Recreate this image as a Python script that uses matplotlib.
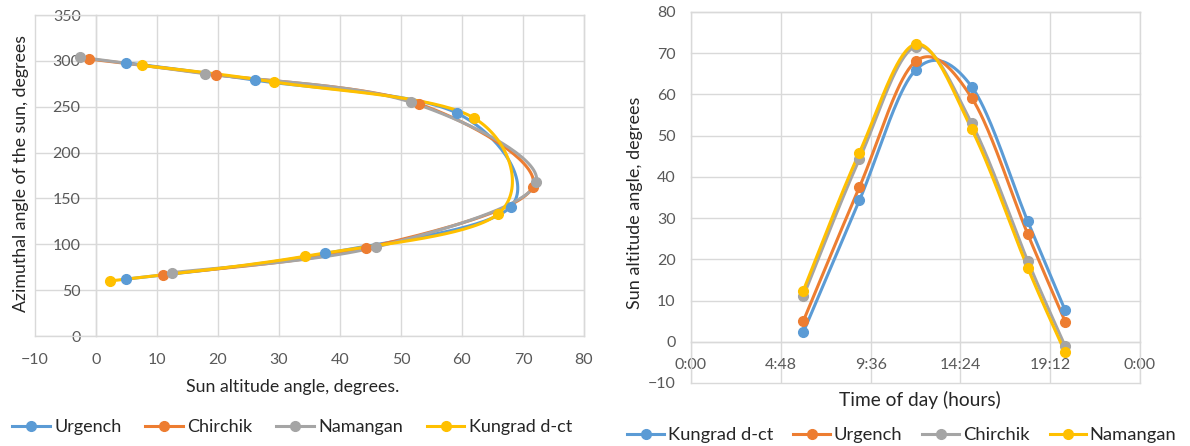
import numpy as np
import matplotlib
matplotlib.use('Agg')
import matplotlib.pyplot as plt

plt.rcParams['font.family'] = ['Lato', 'DejaVu Sans']

# observation times (hours of the day)
hours = [6, 9, 12, 15, 18, 20]

# sun altitude, degrees
alt_urgench = [5.0, 37.5, 68.0, 59.2, 26.1, 4.9]
alt_chirchik = [11.0, 44.3, 71.6, 53.0, 19.6, -1.1]
alt_namangan = [12.4, 45.9, 72.2, 51.6, 17.9, -2.6]
alt_kungrad = [2.3, 34.3, 65.9, 61.9, 29.2, 7.6]

# sun azimuth, degrees
az_urgench = [62, 90, 141, 243, 279, 298]
az_chirchik = [67, 96, 163, 253, 285, 302]
az_namangan = [69, 97, 168, 255, 286, 304]
az_kungrad = [60, 87, 133, 238, 277, 295]

BLUE = '#5B9BD5'
ORANGE = '#ED7D31'
GRAY = '#A5A5A5'
YELLOW = '#FFC000'
GRID = '#D9D9D9'
TICK = '#595959'
TEXT = '#262626'


def smooth(x, y, n=40):
    """Excel-like smoothed line: Bezier segments through the points."""
    pts = np.column_stack([x, y]).astype(float)
    p = np.vstack([pts[0], pts, pts[-1]])
    t = np.linspace(0, 1, n)[:, None]
    out = []
    for i in range(1, len(p) - 2):
        p0, p1, p2, p3 = p[i - 1], p[i], p[i + 1], p[i + 2]
        c1 = p1 + (p2 - p0) / 6
        c2 = p2 - (p3 - p1) / 6
        seg = (1 - t) ** 3 * p1 + 3 * (1 - t) ** 2 * t * c1 + 3 * (1 - t) * t ** 2 * c2 + t ** 3 * p2
        out.append(seg)
    out = np.vstack(out)
    return out[:, 0], out[:, 1]


def series(ax, x, y, color, label):
    sx, sy = smooth(x, y)
    ax.plot(sx, sy, color=color, lw=2.2, solid_capstyle='round', zorder=3)
    ax.plot(x, y, 'o', color=color, ms=7, zorder=4)
    # legend proxy
    ax.plot([], [], '-o', color=color, lw=2.2, ms=7, label=label)


def style(ax):
    for s in ax.spines.values():
        s.set_color(GRID)
        s.set_linewidth(1.0)
    ax.grid(True, color=GRID, lw=1.0, zorder=0)
    ax.set_axisbelow(True)
    ax.tick_params(length=0, colors=TICK, labelsize=11.5)
    for gl in ax.get_xgridlines() + ax.get_ygridlines():
        gl.set_clip_on(False)


fig = plt.figure(figsize=(11.9, 4.46), dpi=100)

# ---- left: azimuth vs altitude
ax1 = fig.add_axes([0.0294, 0.2466, 0.4613, 0.7197])
series(ax1, alt_urgench, az_urgench, BLUE, 'Urgench')
series(ax1, alt_chirchik, az_chirchik, ORANGE, 'Chirchik')
series(ax1, alt_namangan, az_namangan, GRAY, 'Namangan')
series(ax1, alt_kungrad, az_kungrad, YELLOW, 'Kungrad d-ct')
ax1.set_xlim(-10, 80)
ax1.set_ylim(0, 350)
ax1.set_xticks(np.arange(-10, 81, 10))
ax1.set_yticks(np.arange(0, 351, 50))
style(ax1)
ax1.spines['left'].set_position(('data', 0))
ax1.tick_params(axis='x', pad=12)
ax1.tick_params(axis='y', pad=11)
fig.text(293 / 1190, 1 - 387 / 446, 'Sun altitude angle, degrees.', ha='center', va='center',
         fontsize=12.8, color=TEXT)
fig.text(21 / 1190, 1 - 174 / 446, 'Azimuthal angle of the sun, degrees', ha='center', va='center',
         rotation=90, fontsize=12.8, color=TEXT)
fig.legend(*ax1.get_legend_handles_labels(), loc='center', bbox_to_anchor=(292 / 1190, 1 - 427 / 446),
           ncol=4, frameon=False, fontsize=13, handlelength=2.1, handletextpad=0.25, columnspacing=1.3,
           labelcolor=TEXT)

# ---- right: altitude vs time
ax2 = fig.add_axes([0.5807, 0.1413, 0.3773, 0.8318])
series(ax2, hours, alt_kungrad, BLUE, 'Kungrad d-ct')
series(ax2, hours, alt_urgench, ORANGE, 'Urgench')
series(ax2, hours, alt_chirchik, GRAY, 'Chirchik')
series(ax2, hours, alt_namangan, YELLOW, 'Namangan')
ax2.set_xlim(0, 24)
ax2.set_ylim(-10, 80)
xt = np.arange(0, 24.01, 4.8)
ax2.set_xticks(xt)
labels = []
for h in xt:
    mins = int(round(h * 60)) % (24 * 60)
    labels.append('%d:%02d' % (mins // 60, mins % 60))
ax2.set_xticklabels(labels)
ax2.set_yticks(np.arange(-10, 81, 10))
style(ax2)
ax2.spines['bottom'].set_position(('data', 0))
ax2.tick_params(axis='x', pad=12)
ax2.tick_params(axis='y', pad=11)
fig.text(920 / 1190, 1 - 400 / 446, 'Time of day (hours)', ha='center', va='center',
         fontsize=13.8, color=TEXT)
fig.text(635 / 1190, 1 - 203 / 446, 'Sun altitude angle, degrees', ha='center', va='center',
         rotation=90, fontsize=13, color=TEXT)
fig.legend(*ax2.get_legend_handles_labels(), loc='center', bbox_to_anchor=(902 / 1190, 1 - 435 / 446),
           ncol=4, frameon=False, fontsize=13.2, handlelength=2.0, handletextpad=0.2, columnspacing=1.1,
           labelcolor=TEXT)

fig.savefig('out.png', dpi=100)
